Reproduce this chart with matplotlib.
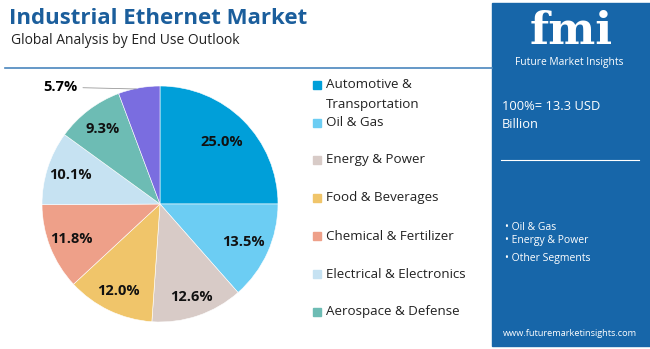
import matplotlib.pyplot as plt
import matplotlib.patches as mpatches
import numpy as np

W, H = 650, 349

segments = ["Automotive &\nTransportation", "Oil & Gas", "Energy & Power", "Food & Beverages",
            "Chemical & Fertilizer", "Electrical & Electronics", "Aerospace & Defense", "Others"]
shares = [25.0, 13.5, 12.6, 12.0, 11.8, 10.1, 9.3, 5.7]
colors = ['#009fd9', '#6ccdf3', '#d8cbc7', '#f0c56a', '#eea089', '#c6e2f2', '#6dbcb4', '#7a6de0']
label_r = [0.74, 0.78, 0.83, 0.82, 0.81, 0.80, 0.80, None]

panel_bullets = ["Oil & Gas", "Energy & Power", "Other Segments"]

plt.rcParams['font.family'] = ['Open Sans', 'DejaVu Sans']

fig = plt.figure(figsize=(W / 100, H / 100), dpi=100)

def fx(px):
    return px / W

def fy(py):
    return 1 - py / H

# header
fig.text(fx(9), fy(18), "Industrial Ethernet Market", fontsize=16, fontweight='bold',
         color='#1b5e9c', va='center', ha='left')
fig.text(fx(11), fy(40), "Global Analysis by End Use Outlook", fontsize=10,
         color='#222222', va='center', ha='left')
fig.add_artist(plt.Line2D([fx(5), fx(492)], [fy(68), fy(68)], color='#4a86bd', lw=1.2))

# pie
cx, cy, r = 160, 204, 118
ax = fig.add_axes([fx(cx - r), fy(cy + r), 2 * r / W, 2 * r / H])
wedges, _ = ax.pie(shares, colors=colors, startangle=90, counterclock=False, radius=1,
                   wedgeprops=dict(linewidth=0.4, edgecolor='white'))
ax.set_xlim(-1, 1)
ax.set_ylim(-1, 1)
ax.set_aspect('equal')
ax.axis('off')

for w, s, lr in zip(wedges, shares, label_r):
    ang = np.deg2rad((w.theta1 + w.theta2) / 2)
    if lr is None:
        x0, y0 = 0.99 * np.cos(ang), 0.99 * np.sin(ang)
        ax.annotate(f"{s:.1f}%", xy=(x0, y0), xytext=(-0.7, 0.99),
                    fontsize=10.5, fontweight='bold', ha='right', va='center',
                    arrowprops=dict(arrowstyle='-', color='#999999', lw=0.6))
    else:
        ax.text(lr * np.cos(ang), lr * np.sin(ang), f"{s:.1f}%", fontsize=10.5,
                fontweight='bold', ha='center', va='center', color='#111111')

# legend
leg_y = [85, 123, 160, 198, 236, 274, 312]
for lab, col, yy in zip(segments[:7], colors[:7], leg_y):
    fig.add_artist(mpatches.Rectangle((fx(313), fy(yy + 4)), 8 / W, 8 / H, color=col,
                                      transform=fig.transFigure))
    lines = lab.split("\n")
    for k, ln in enumerate(lines):
        fig.text(fx(326), fy(yy + k * 19), ln, fontsize=9.6, color='#222222',
                 va='center', ha='left')

# right panel
fig.add_artist(mpatches.Rectangle((fx(492), fy(346)), 1 - fx(492), (346 - 3) / H,
                                  color='#1766a9', transform=fig.transFigure, zorder=0))
fig.text(fx(571), fy(53), "fmi", fontsize=32, fontweight='bold', color='white',
         ha='center', va='bottom', family='DejaVu Serif')
fig.text(fx(569), fy(62), "Future Market Insights", fontsize=7.4, color='white',
         ha='center', va='center')
fig.text(fx(502), fy(106), "100%= 13.3 USD", fontsize=9.3, color='white', va='center')
fig.text(fx(502), fy(125), "Billion", fontsize=9.3, color='white', va='center')
fig.add_artist(plt.Line2D([fx(501), fx(639)], [fy(160), fy(160)], color='white', lw=0.8))
for t, yy in zip(panel_bullets, [228, 241, 258]):
    fig.text(fx(505), fy(yy), "\u2022 " + t, fontsize=7.5, color='white', va='center')
fig.text(fx(570), fy(333), "www.futuremarketinsights.com", fontsize=6.6, color='white',
         ha='center', va='center')

fig.savefig("out.png", dpi=100)
